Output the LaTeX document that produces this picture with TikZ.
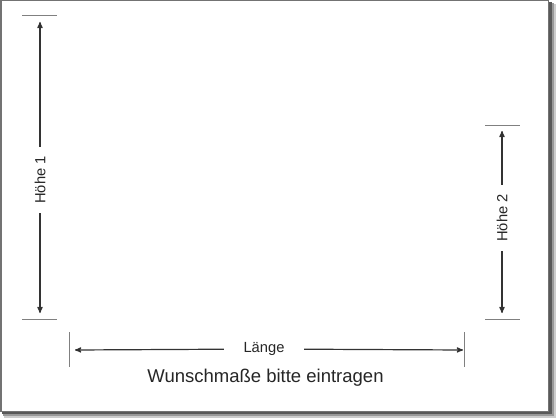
\documentclass[tikz,border=0pt]{standalone}
\usepackage{fontspec}
\setmainfont{Liberation Sans}
\usepackage{tikz}
\usetikzlibrary{arrows}

\begin{document}
\begin{tikzpicture}[x=1pt,y=-1pt,
  dimtext/.style={font=\fontsize{14.7}{17}\selectfont,text=black!85,inner sep=0pt,minimum width=66pt},
  tick/.style={draw=black!50,line width=1pt}]
\useasboundingbox (0,0) rectangle (560,420);

% sheet with its shadow
  \fill[black!20] (4,4) rectangle (555.5,417.5);
  \fill[black!40] (3,3) rectangle (553.5,415.5);
  \fill[black!65] (2,2) rectangle (551.5,413.5);
  \filldraw[fill=white,draw=black!55,line width=1.5pt] (0.75,0.75) rectangle (548.5,411.5);

% ticks
  \draw[tick] (22,16) -- (57,16)   (22,319) -- (57,319);
  \draw[tick] (485,125) -- (520,125) (485,319) -- (520,319);
  \draw[tick] (69,332) -- (69,367)  (464,332) -- (464,367);

  \coordinate (A1) at (40,22);
  \coordinate (B1) at (40,313);
  \coordinate (A2) at (502,131);
  \coordinate (B2) at (502,313);
  \coordinate (AL) at (75,350);
  \coordinate (BL) at (463,350);

  \node[dimtext,rotate=90] (H1) at (40,180)  {Höhe 1};
  \node[dimtext,rotate=90] (H2) at (502,218) {Höhe 2};
  \node[dimtext,minimum width=80pt] (L) at (264,349) {Länge};
  \node[font=\fontsize{18.5}{21}\selectfont,text=black!85] (T) at (265.5,378) {Wunschmaße bitte eintragen};

  \path[->,>=stealth',draw=black!80,line width=1.2pt]
        (H1) edge (A1)
        (H1) edge (B1)
        (H2) edge (A2)
        (H2) edge (B2)
        (L)  edge (AL)
        (L)  edge (BL);

\end{tikzpicture}
\end{document}
